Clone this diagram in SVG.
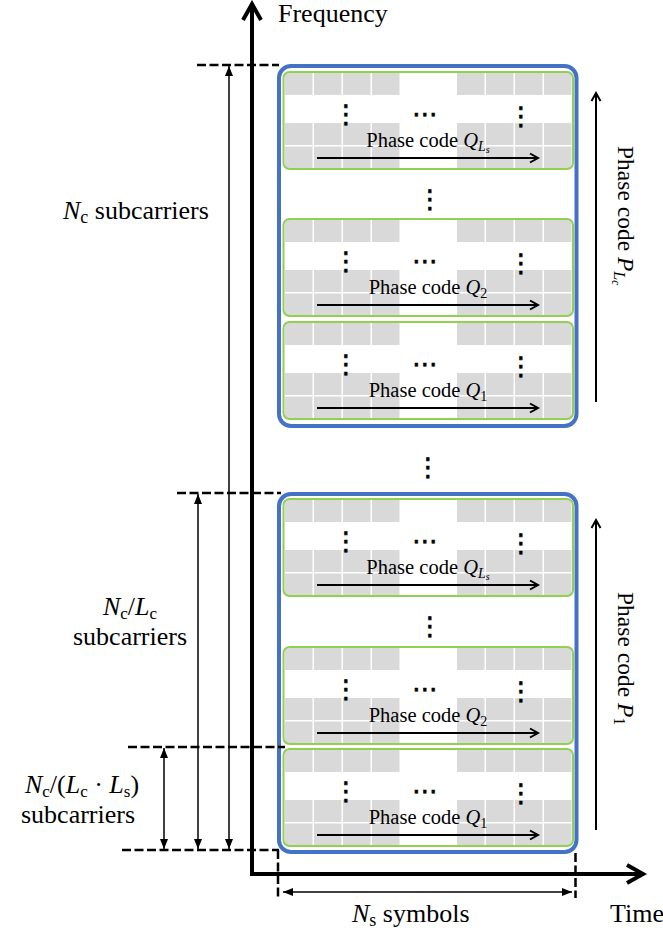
<svg xmlns="http://www.w3.org/2000/svg" width="663" height="935" viewBox="0 0 663 935">
<defs>
<style>
.blue{fill:#fff;stroke:#4472C4;stroke-width:4}
.green{fill:none;stroke:#92D050;stroke-width:2}
.cell{fill:#D9D9D9}
.t{font-family:"Liberation Serif","Times New Roman",serif;fill:#000}
.pc{font-size:20.5px}
.pv{font-size:23.5px}
.big{font-size:26px}
.i{font-style:italic}
.dots{font-family:"DejaVu Sans",sans-serif;font-size:26px;text-anchor:middle;fill:#000;stroke:#000;stroke-width:0.6}
.dash{stroke:#000;stroke-width:2.5;stroke-dasharray:9 3.5;fill:none}
.dim{stroke:#000;stroke-width:1.5;fill:none;marker-start:url(#tri);marker-end:url(#tri)}
.ar{stroke:#000;stroke-width:2;fill:none;marker-end:url(#chev)}
.axis{stroke:#000;stroke-width:4;fill:none;stroke-linejoin:miter;marker-start:url(#axchev);marker-end:url(#axchev)}
</style>
<marker id="tri" markerUnits="userSpaceOnUse" markerWidth="10" markerHeight="8" viewBox="0 0 10 8" refX="10" refY="4" orient="auto-start-reverse"><path d="M0,0 L10,4 L0,8 z" fill="#000"/></marker>
<marker id="chev" markerUnits="userSpaceOnUse" markerWidth="14" markerHeight="14" viewBox="-11 -7 14 14" refX="0" refY="0" orient="auto"><path d="M-8,-4.5 L0,0 L-8,4.5" fill="none" stroke="#000" stroke-width="2"/></marker>
<marker id="axchev" markerUnits="userSpaceOnUse" markerWidth="26" markerHeight="26" viewBox="-20 -13 26 26" refX="0" refY="0" orient="auto-start-reverse"><path d="M-16,-9 L0,0 L-16,9" fill="none" stroke="#000" stroke-width="4"/></marker>
<g id="cells">
<rect class="cell" x="1.5" y="1" width="27.5" height="22"/><rect class="cell" x="30.5" y="1" width="27.5" height="22"/><rect class="cell" x="59.5" y="1" width="27.5" height="22"/><rect class="cell" x="88.5" y="1" width="27.5" height="22"/>
<rect class="cell" x="173.5" y="1" width="27.5" height="22"/><rect class="cell" x="202.5" y="1" width="27.5" height="22"/><rect class="cell" x="231.5" y="1" width="27.5" height="22"/><rect class="cell" x="260.5" y="1" width="27.5" height="22"/>
<rect class="cell" x="1.5" y="51" width="27.5" height="22"/><rect class="cell" x="30.5" y="51" width="27.5" height="22"/><rect class="cell" x="59.5" y="51" width="27.5" height="22"/><rect class="cell" x="88.5" y="51" width="27.5" height="22"/>
<rect class="cell" x="173.5" y="51" width="27.5" height="22"/><rect class="cell" x="202.5" y="51" width="27.5" height="22"/><rect class="cell" x="231.5" y="51" width="27.5" height="22"/><rect class="cell" x="260.5" y="51" width="27.5" height="22"/>
<rect class="cell" x="1.5" y="74.5" width="27.5" height="22"/><rect class="cell" x="30.5" y="74.5" width="27.5" height="22"/><rect class="cell" x="59.5" y="74.5" width="27.5" height="22"/><rect class="cell" x="88.5" y="74.5" width="27.5" height="22"/>
<rect class="cell" x="173.5" y="74.5" width="27.5" height="22"/><rect class="cell" x="202.5" y="74.5" width="27.5" height="22"/><rect class="cell" x="231.5" y="74.5" width="27.5" height="22"/><rect class="cell" x="260.5" y="74.5" width="27.5" height="22"/>
</g>
<g id="gbox">
<use href="#cells"/>
<rect class="green" x="0" y="0" width="289.5" height="97" rx="6"/>
<text class="dots" x="62.5" y="50.5">⋮</text>
<text class="dots" x="141.5" y="50.5">⋯</text>
<text class="dots" x="237.5" y="52.5">⋮</text>
<line class="ar" x1="33.5" y1="86" x2="254.5" y2="86"/>
</g>
</defs>

<!-- axes -->
<g id="axes">
<polyline class="axis" points="252,4 252,874 643,874"/>
<text class="t big" x="278" y="22">Frequency</text>
<text class="t big" x="610" y="922">Time</text>
</g>

<!-- upper block -->
<g id="block-Lc">
<rect class="blue" x="279" y="66" width="297.5" height="360" rx="12"/>
<g id="upper-QLs" transform="translate(283.5,72)">
<use href="#gbox"/>
<text class="t pc" x="144.5" y="75" text-anchor="middle">Phase code <tspan class="i">Q</tspan><tspan class="i" font-size="14" dy="4">L</tspan><tspan class="i" font-size="10" dy="2">s</tspan></text>
</g>
<text id="upper-vdots" class="dots" x="430" y="207.5">⋮</text>
<g id="upper-Q2" transform="translate(283.5,219)">
<use href="#gbox"/>
<text class="t pc" x="144.5" y="75" text-anchor="middle">Phase code <tspan class="i">Q</tspan><tspan font-size="14" dy="4">2</tspan></text>
</g>
<g id="upper-Q1" transform="translate(283.5,322)">
<use href="#gbox"/>
<text class="t pc" x="144.5" y="75" text-anchor="middle">Phase code <tspan class="i">Q</tspan><tspan font-size="14" dy="4">1</tspan></text>
</g>
</g>

<text id="mid-vdots" class="dots" x="428" y="475.5">⋮</text>

<!-- lower block -->
<g id="block-1">
<rect class="blue" x="279" y="494" width="297.5" height="358" rx="12"/>
<g id="lower-QLs" transform="translate(283.5,499)">
<use href="#gbox"/>
<text class="t pc" x="144.5" y="75" text-anchor="middle">Phase code <tspan class="i">Q</tspan><tspan class="i" font-size="14" dy="4">L</tspan><tspan class="i" font-size="10" dy="2">s</tspan></text>
</g>
<text id="lower-vdots" class="dots" x="430" y="634.5">⋮</text>
<g id="lower-Q2" transform="translate(283.5,647)">
<use href="#gbox"/>
<text class="t pc" x="144.5" y="75" text-anchor="middle">Phase code <tspan class="i">Q</tspan><tspan font-size="14" dy="4">2</tspan></text>
</g>
<g id="lower-Q1" transform="translate(283.5,749)">
<use href="#gbox"/>
<text class="t pc" x="144.5" y="75" text-anchor="middle">Phase code <tspan class="i">Q</tspan><tspan font-size="14" dy="4">1</tspan></text>
</g>
</g>

<!-- connectors / dimension lines -->
<g id="connectors">
<line class="dash" x1="197" y1="65" x2="279" y2="65"/>
<line class="dash" x1="177" y1="493" x2="281" y2="493"/>
<line class="dash" x1="128" y1="747" x2="285" y2="747"/>
<line class="dash" x1="122" y1="850" x2="279" y2="850"/>
<line class="dash" x1="278" y1="850" x2="278" y2="900"/>
<line class="dash" x1="575.5" y1="853" x2="575.5" y2="898"/>
<line class="dim" x1="229" y1="66" x2="229" y2="849"/>
<line class="dim" x1="198" y1="494" x2="198" y2="849"/>
<line class="dim" x1="164" y1="748" x2="164" y2="849"/>
<line class="dim" x1="283" y1="892" x2="572" y2="892"/>
<line class="ar" x1="596" y1="402" x2="596" y2="93"/>
<line class="ar" x1="596" y1="830" x2="596" y2="520"/>
</g>

<!-- labels -->
<g id="labels">
<text class="t big" x="63" y="219"><tspan class="i">N</tspan><tspan font-size="18" dy="4">c</tspan><tspan dy="-4"> subcarriers</tspan></text>
<text class="t big" x="130" y="615" text-anchor="middle"><tspan class="i">N</tspan><tspan font-size="17" dy="3.5">c</tspan><tspan dy="-3.5">/</tspan><tspan class="i">L</tspan><tspan font-size="17" dy="3.5">c</tspan></text>
<text class="t big" x="130" y="645" text-anchor="middle">subcarriers</text>
<text class="t big" x="82" y="793" text-anchor="middle"><tspan class="i">N</tspan><tspan font-size="17" dy="3.5">c</tspan><tspan dy="-3.5">/(</tspan><tspan class="i">L</tspan><tspan font-size="17" dy="3.5">c</tspan><tspan dy="-3.5"> · </tspan><tspan class="i">L</tspan><tspan font-size="17" dy="3.5">s</tspan><tspan dy="-3.5">)</tspan></text>
<text class="t big" x="78" y="823" text-anchor="middle">subcarriers</text>
<text class="t big" x="352" y="922"><tspan class="i">N</tspan><tspan font-size="18" dy="4">s</tspan><tspan dy="-4"> symbols</tspan></text>
<text class="t pv" transform="translate(618,146) rotate(90)">Phase code <tspan class="i">P</tspan><tspan class="i" font-size="16" dy="4">L</tspan><tspan class="i" font-size="11.5" dy="2">c</tspan></text>
<text class="t pv" transform="translate(618,592) rotate(90)">Phase code <tspan class="i">P</tspan><tspan font-size="16" dy="4">1</tspan></text>
</g>
</svg>
